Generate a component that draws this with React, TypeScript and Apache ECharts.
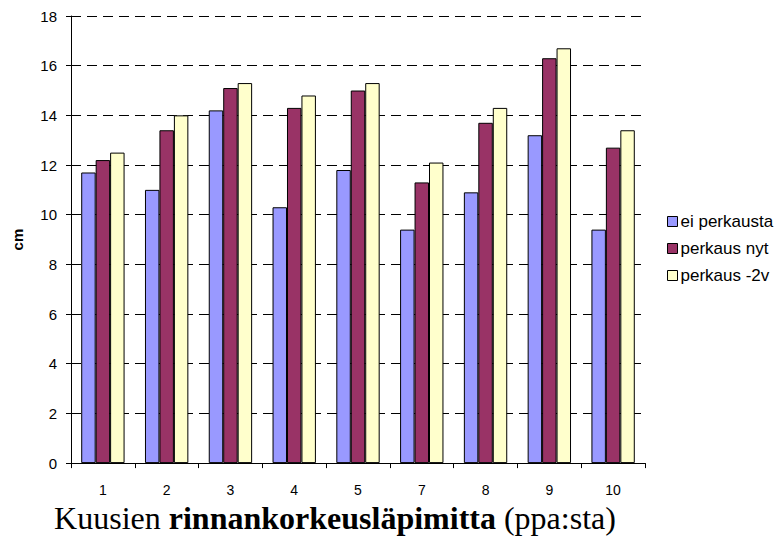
import React, { useEffect, useRef } from "react";
import * as echarts from "echarts";

const categories = ["1", "2", "3", "4", "5", "7", "8", "9", "10"];
const eiPerkausta = [11.7, 11.0, 14.2, 10.3, 11.8, 9.4, 10.9, 13.2, 9.4];
const perkausNyt = [12.2, 13.4, 15.1, 14.3, 15.0, 11.3, 13.7, 16.3, 12.7];
const perkaus2v = [12.5, 14.0, 15.3, 14.8, 15.3, 12.1, 14.3, 16.7, 13.4];
const seriesNames = ["ei perkausta", "perkaus nyt", "perkaus -2v"];
const colors = ["#9999FF", "#993366", "#FFFFCC"];

const SANS = "Liberation Sans, Arial, sans-serif";
const SERIF = "Liberation Serif, Times New Roman, serif";

export default function App() {
  const ref = useRef<HTMLDivElement>(null);
  useEffect(() => {
    const chart = echarts.init(ref.current!, undefined, { renderer: "svg" });
    const data = [eiPerkausta, perkausNyt, perkaus2v];
    chart.setOption({
      animation: false,
      backgroundColor: "#ffffff",
      textStyle: { fontFamily: SANS },
      grid: { left: 71, right: 132, top: 16, bottom: 71 },
      legend: {
        orient: "vertical",
        left: 662,
        top: 208,
        itemWidth: 10,
        itemHeight: 10,
        itemGap: 10,
        icon: "rect",
        textStyle: { fontSize: 17, lineHeight: 17, color: "#000", fontFamily: SANS, padding: [0, 0, 0, -2] },
        data: seriesNames.map((n) => ({ name: n, itemStyle: { borderColor: "#000", borderWidth: 1 } })),
      },
      xAxis: {
        type: "category",
        data: categories,
        axisLine: { lineStyle: { color: "#000", width: 1 } },
        axisTick: { show: true, length: 5, lineStyle: { color: "#000" } },
        axisLabel: { color: "#000", fontSize: 14, margin: 20, fontFamily: SANS },
        name: "{n|Kuusien }{b|rinnankorkeusläpimitta}{n| (ppa:sta)}",
        nameLocation: "middle",
        nameGap: 38,
        nameTextStyle: {
          padding: [0, 46, 0, 0],
          rich: {
            n: { fontFamily: SERIF, fontSize: 32, lineHeight: 32, color: "#000" },
            b: { fontFamily: SERIF, fontSize: 32, lineHeight: 32, fontWeight: "bold", color: "#000" },
          },
        },
      },
      yAxis: {
        type: "value",
        min: 0,
        max: 18,
        interval: 2,
        axisLine: { show: true, lineStyle: { color: "#000", width: 1 } },
        axisTick: { show: true, length: 5, lineStyle: { color: "#000" } },
        axisLabel: { color: "#000", fontSize: 15, margin: 14, fontFamily: SANS },
        splitLine: { show: true, lineStyle: { color: "#000", type: [10, 6], width: 1 } },
        name: "cm",
        nameLocation: "middle",
        nameGap: 46,
        nameTextStyle: { fontSize: 15, fontWeight: "bold", color: "#000", fontFamily: SANS },
      },
      series: seriesNames.map((n, i) => ({
        name: n,
        type: "bar",
        data: data[i],
        barGap: "0%",
        barCategoryGap: "32%",
        itemStyle: { color: colors[i], borderColor: "#000", borderWidth: 1 },
      })),
    });
    return () => chart.dispose();
  }, []);
  return <div ref={ref} style={{ position: "absolute", left: 0, top: 0, width: 777, height: 539 }} />;
}
